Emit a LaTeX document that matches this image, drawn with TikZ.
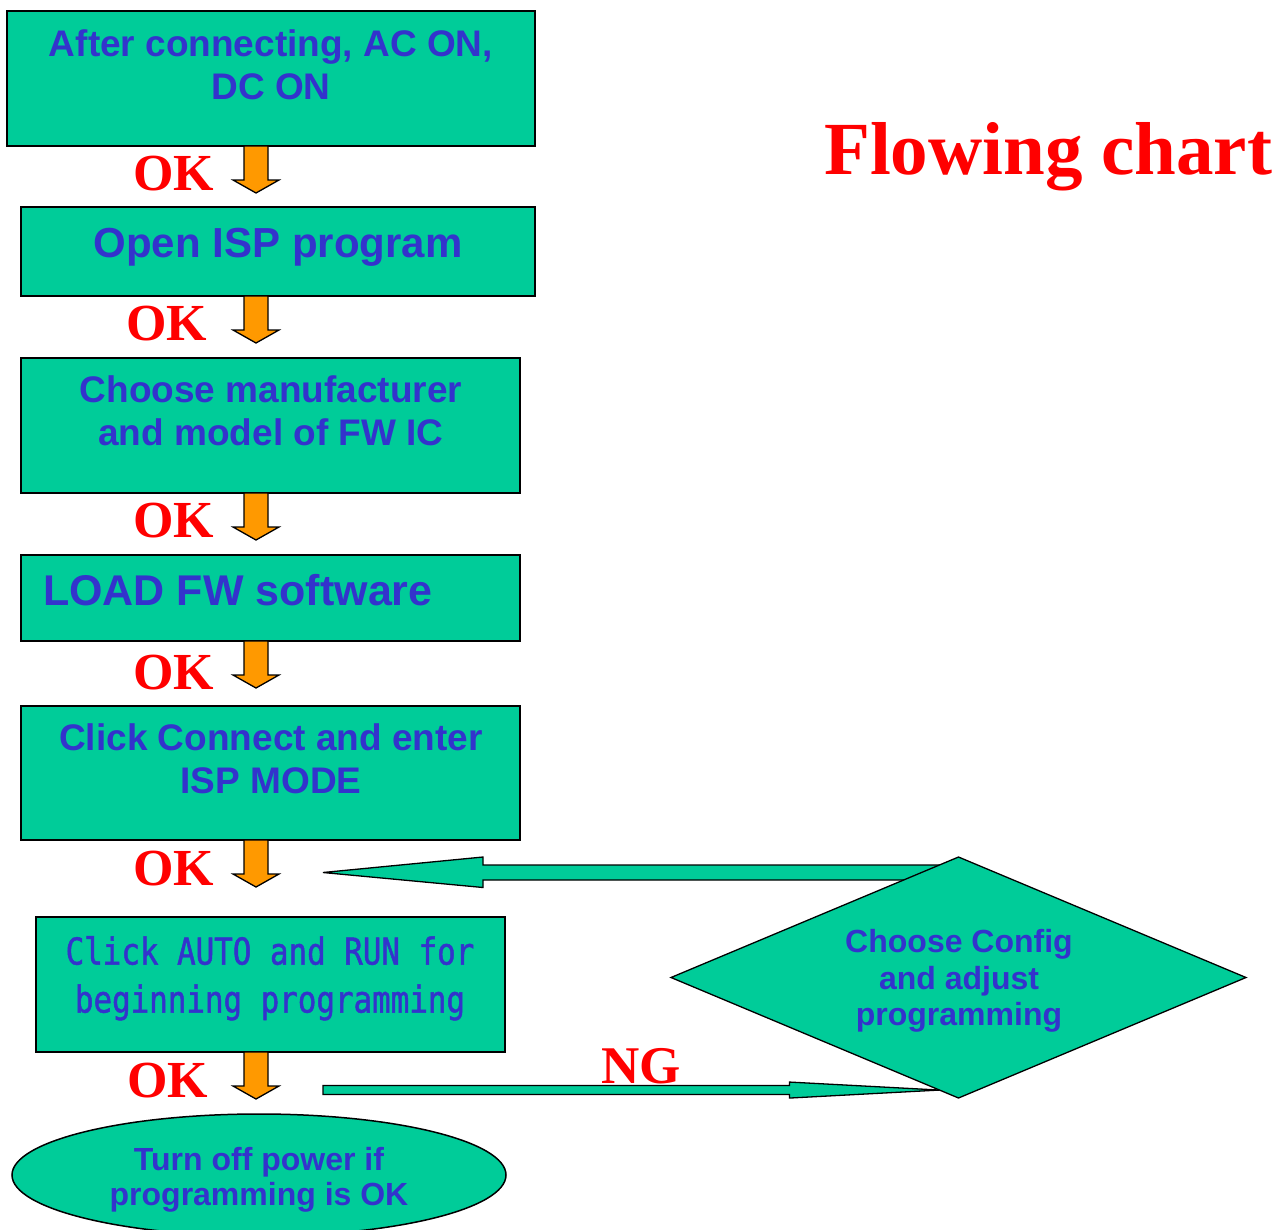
\documentclass[tikz,border=0pt]{standalone}
\usepackage{fontspec}
\setmainfont{Liberation Serif}
\setsansfont{Liberation Sans}
\newfontfamily\narrowmono[FakeStretch=0.834,FakeBold=1.3]{DejaVu Sans Mono}
\usetikzlibrary{shapes.geometric,calc,backgrounds}
\definecolor{boxgreen}{RGB}{0,204,153}
\definecolor{txtblue}{RGB}{51,51,204}
\definecolor{okorange}{RGB}{255,153,0}
\definecolor{okred}{RGB}{255,0,0}
\newcommand\okarrow[1]{%
  \draw[oarrow] let \p1=(#1.south) in
    (244pt,\y1) -- (268pt,\y1) -- (268pt,\y1-34pt) -- (279pt,\y1-34pt) --
    (256pt,\y1-47pt) -- (233pt,\y1-34pt) -- (244pt,\y1-34pt) -- cycle;}
\begin{document}
\begin{tikzpicture}[x=1pt,y=-1pt,
  stepbox/.style={draw=black, line width=1.5pt, fill=boxgreen, rectangle, inner sep=0pt, outer sep=0pt},
  btxt/.style={text=txtblue, font=\sffamily\bfseries\fontsize{37}{43}\selectfont, align=center, inner sep=0pt, anchor=north},
  oklbl/.style={text=okred, font=\bfseries\fontsize{52}{52}\selectfont, inner sep=0pt, anchor=base west},
  oarrow/.style={draw=black, line width=1.3pt, fill=okorange, line join=miter},
  garrow/.style={draw=black, line width=1.3pt, fill=boxgreen, line join=miter},
]
\useasboundingbox (0,0) rectangle (1277,1229);

% boxes
\node[stepbox, minimum width=528, minimum height=135] (b1) at (271,78.5) {};
\node[stepbox, minimum width=514, minimum height=89]  (b2) at (278,251.5) {};
\node[stepbox, minimum width=499, minimum height=135] (b3) at (270.5,425.5) {};
\node[stepbox, minimum width=499, minimum height=86]  (b4) at (270.5,598) {};
\node[stepbox, minimum width=499, minimum height=134] (b5) at (270.5,773) {};
\node[stepbox, minimum width=469, minimum height=135] (b6) at (270.5,984.5) {};
\node[draw=black, line width=1.5pt, fill=boxgreen, ellipse, inner sep=0pt, outer sep=0pt,
      minimum width=494, minimum height=122] (e) at (259,1175) {};
\node[draw=black, line width=1.3pt, fill=boxgreen, diamond, inner sep=0pt, outer sep=0pt,
      minimum width=575, minimum height=241] (d) at (958.5,977.5) {};

% box texts
\node[btxt] (t1) at (271,29) {After connecting, AC ON,\\DC ON};
\node[btxt, anchor=base, font=\sffamily\bfseries\fontsize{42}{42}\selectfont] (t2) at (278,257) {Open ISP program};
\node[btxt] (t3) at (271,375) {Choose manufacturer\\and model of FW IC};
\node[btxt, anchor=base west, font=\sffamily\bfseries\fontsize{43}{43}\selectfont] (t4) at (43,605) {LOAD FW software};
\node[btxt] (t5) at (271,723) {Click Connect and enter\\ISP MODE};
\node[btxt, font=\narrowmono\fontsize{37}{48}\selectfont] (t6) at (270,936) {Click AUTO and RUN for\\beginning programming};
\node[btxt, font=\sffamily\bfseries\fontsize{32}{35}\selectfont] (te) at (259,1147) {Turn off power if\\programming is OK};
\node[btxt, font=\sffamily\bfseries\fontsize{32}{36.5}\selectfont] (td) at (959,929.5) {Choose Config\\and adjust\\programming};

% orange arrows
\okarrow{b1}
\okarrow{b2}
\okarrow{b3}
\okarrow{b4}
\okarrow{b5}
\okarrow{b6}

% green block arrows
\coordinate (rtip) at (323,872.5);
\coordinate (ngstart) at (323,1090);
\coordinate (ngtip) at ($(d.west)!0.934!(d.south)$);
\begin{scope}[on background layer]
\draw[garrow] let \p1=(d.center), \p2=(rtip) in
  (\x1,\y2+7.5pt) -- (\x2+160pt,\y2+7.5pt) -- (\x2+160pt,\y2+15.5pt) -- (\p2) --
  (\x2+160pt,\y2-15pt) -- (\x2+160pt,\y2-7.5pt) -- (\x1,\y2-7.5pt) -- cycle;
\draw[garrow] let \p1=(ngstart), \p2=(ngtip) in
  (\x1,\y2+4.5pt) -- (\x2-150pt,\y2+4.5pt) -- (\x2-150pt,\y2+8pt) -- (\p2) --
  (\x2-150pt,\y2-8pt) -- (\x2-150pt,\y2-4.5pt) -- (\x1,\y2-4.5pt) -- cycle;
\end{scope}

% labels
\node[oklbl] (ok1) at (133,190) {OK};
\node[oklbl] (ok2) at (126,340) {OK};
\node[oklbl] (ok3) at (133,537) {OK};
\node[oklbl] (ok4) at (133,689) {OK};
\node[oklbl] (ok5) at (133,885) {OK};
\node[oklbl] (ok6) at (127,1097) {OK};
\node[oklbl, font=\bfseries\fontsize{53}{53}\selectfont] (ng) at (601,1083) {NG};
\node[oklbl, font=\bfseries\fontsize{75}{75}\selectfont] (title) at (824,174) {Flowing chart};
\end{tikzpicture}
\end{document}
